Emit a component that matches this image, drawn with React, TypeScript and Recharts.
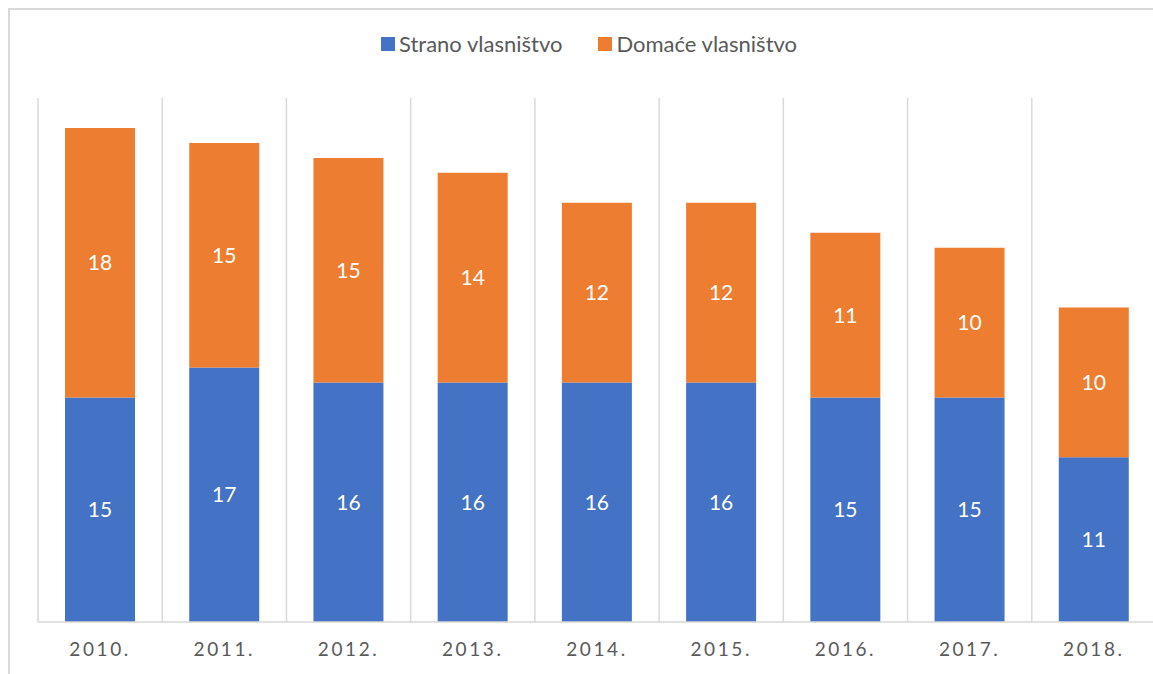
import React from "react";
import { BarChart, Bar, XAxis, YAxis, CartesianGrid, LabelList } from "recharts";

// godine i vrijednosti ocitane s grafa
const years = ["2010.", "2011.", "2012.", "2013.", "2014.", "2015.", "2016.", "2017.", "2018."];
const strano = [15, 17, 16, 16, 16, 16, 15, 15, 11];
const domace = [18, 15, 15, 14, 12, 12, 11, 10, 10];
const gridTicks = [0, 1, 2, 3, 4, 5, 6, 7, 8, 9];

const BLUE = "#4472C4";
const ORANGE = "#ED7D31";
const GREY = "#d9d9d9";
const TEXT = "#595959";
const FONT = "Lato, 'Open Sans', sans-serif";

const data = years.map((year, i) => ({
  year,
  idx: i + 0.5,
  strano: strano[i],
  domace: domace[i],
}));

function LegendItem({ color, label }: { color: string; label: string }) {
  return (
    <div style={{ display: "flex", alignItems: "center", marginRight: 36 }}>
      <span style={{ width: 14, height: 14, background: color, marginRight: 4 }} />
      <span style={{ fontSize: 22, color: TEXT, fontFamily: FONT }}>{label}</span>
    </div>
  );
}

export default function App() {
  return (
    <div
      style={{
        position: "absolute",
        left: 8,
        top: 8,
        width: 1145,
        height: 666,
        overflow: "hidden",
        background: "#fff",
      }}
    >
      {/* chart frame, right and bottom edges fall outside the picture */}
      <div
        style={{
          position: "absolute",
          left: 0,
          top: 0,
          width: 1200,
          height: 720,
          border: `2px solid ${GREY}`,
          boxSizing: "border-box",
        }}
      />

      {/* legend */}
      <div style={{ position: "absolute", left: 373, top: 22, display: "flex" }}>
        <LegendItem color={BLUE} label="Strano vlasništvo" />
        <LegendItem color={ORANGE} label="Domaće vlasništvo" />
      </div>

      <div style={{ position: "absolute", left: 2, top: 2 }}>
        <BarChart
          width={1160}
          height={664}
          data={data}
          margin={{ top: 88, right: 14, left: 28, bottom: 12 }}
        >
          {/* hidden numeric axis, used only to put grid lines between categories */}
          <XAxis xAxisId="grid" dataKey="idx" type="number" domain={[0, 9]} ticks={gridTicks} hide />
          <CartesianGrid
            xAxisId="grid"
            horizontal={false}
            stroke={GREY}
            strokeWidth={1.5}
            verticalValues={gridTicks}
          />
          <XAxis
            dataKey="year"
            height={40}
            axisLine={{ stroke: GREY, strokeWidth: 1.5 }}
            tickLine={false}
            tickMargin={15}
            tick={{ fill: TEXT, fontSize: 19, fontFamily: FONT, letterSpacing: 2.6 }}
            interval={0}
          />
          <YAxis domain={[0, 35]} hide />
          <Bar dataKey="strano" stackId="a" fill={BLUE} barSize={70} isAnimationActive={false}>
            <LabelList
              dataKey="strano"
              position="center"
              fill="#fff"
              fontSize={21}
              fontFamily={FONT}
            />
          </Bar>
          <Bar dataKey="domace" stackId="a" fill={ORANGE} barSize={70} isAnimationActive={false}>
            <LabelList
              dataKey="domace"
              position="center"
              fill="#fff"
              fontSize={21}
              fontFamily={FONT}
            />
          </Bar>
        </BarChart>
      </div>
    </div>
  );
}
